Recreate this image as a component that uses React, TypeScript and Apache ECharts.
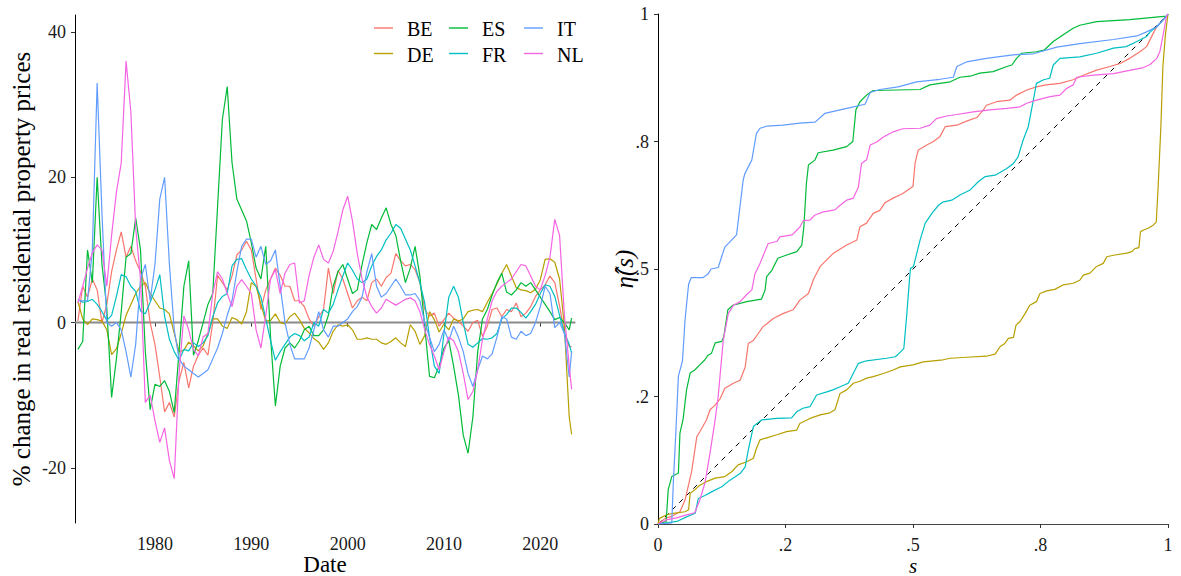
import React, { useEffect, useRef } from "react";
import * as echarts from "echarts";

const FONT = "'Liberation Serif', 'DejaVu Serif', serif";

const countries = ["BE", "DE", "ES", "FR", "IT", "NL"];
const countryColors = ["#F8766D", "#B79F00", "#00BA38", "#00BFC4", "#619CFF", "#F564E3"];

// half-yearly dates 1972.0 ... 2023.0, plus last observation
const dates: number[] = [];
for (let y = 1972; y <= 2023; y += 0.5) dates.push(y);
dates.push(2023.25);

const chgBE = [
  0.2, 5, 3.5, 6, 4.5, 0, 2.5, 7, 10, 12.5, 9, 10.5, 8.5, 7, 5, 0,
  -3, -7.5, -12.3, -11, -13, -8, -5.5, -9, -6, -4.5, -3.5, -4.5, 0, 6.5, 5.5, 4.5, 6.4, 9.3, 10, 11.2,
  10, 6, 1.8, 4.5, 6, 7.5, 6.5, 5, 5, 3, 3, 2.2, 0.5, -0.5, 0.8, 1.8, 7.5, 4, 7.2, 6,
  4, 2, 3, 3.5, 3, 5.5, 6, 5, 6.2, 6.8, 9.5, 8.5, 7.8, 8, 7.3, 5.5, 1.8, 0.9, 1.3, -0.5,
  0.4, 1.3, 0.6, 0.2, -0.5, -1.2, 0, 0.3, -1.9, -0.5, 1.8, 2, 0.8, 1.8, 1.5, 2.7, 0.8, 1.3, 2.2, 3.6,
  4.5, 5.2, 6.4, 5.5, 2.3, -1.5, -3.3, -3.3,
];
const chgDE = [
  2.9, 0.5, -0.3, 0.5, 0.4, 0.2, -1, -4.4, -3.6, -1.5, 1, 2.5, 4, 5, 5.5, 4,
  3, 2, 1.8, 1.2, -1.5, -4, -3.8, -2.7, -3.2, -3.9, -3.2, -1.5, 0.5, 0.5, -0.5, -0.8, 0.7, 0.4, -0.2, 1.5,
  5.5, 5, 2.5, 0.2, 0.3, 1.2, 0, -0.2, 0.8, 1.3, 0.4, -0.8, -1.4, -2.2, -2.7, -3.7, -2.8, -1.2, -0.3, -0.5,
  -0.3, -1, -2.3, -2.3, -2.1, -2.3, -2.3, -2.8, -3, -2.6, -2.1, -2.8, -3.3, -0.3, -1.2, -3, -1.8, 1.5, 0.4, -1.3,
  -0.2, -1, 0.5, 0.2, 0.5, 1.5, 1.7, 1.8, 1.5, 2.8, 4, 5.3, 6.8, 8, 6.4, 4.8, 4.5, 4.4, 4.1, 4.6,
  5.9, 8.7, 8.8, 8.3, 6, -0.5, -13, -15.4,
];
const chgES = [
  -3.7, -2.6, 10, 5.5, 20, 8, 2, -10.3, -5, 1.5, 9, 9.5, 14.4, 10, -4, -12,
  -8.5, -8.8, -8, -9.5, -12.4, -4, 5, 8.5, -4.5, -2.5, 0, 2.5, 4, 16, 28, 32.5, 22, 17, 15.5, 14,
  11, 7.5, 6, 10.5, -2, -11.5, -6, -3.5, -2.8, -3.5, -2.5, -1, -0.5, -1.8, -1.8, -1, 1, 5, 7, 8,
  6, 4, 4.5, 8, 11, 13.5, 12.8, 14.4, 15.8, 13.5, 12, 8.5, 5.5, 7.5, 10.5, 6.4, -0.5, -7.4, -7.6, -6,
  -3.5, -2.5, -6, -10, -15.5, -18, -13, -4, 0.5, 1.8, 3.8, 5.5, 6.8, 4.2, 3.8, 4.5, 5.5, 5, 5.5, 4.5,
  3.5, 2.5, 1.5, 0.4, 0.7, 0, -1, 0.6,
];
const chgFR = [
  3.2, 2.8, 2.9, 3.2, 2.5, 1.5, 0.3, 1, 3.6, 6.6, 6.3, 5, 4.3, 1.6, 1.2, 2.8,
  4.5, 6.6, 0.9, -2.3, -4, -5.2, -3.7, -3.9, -2.8, -3.3, -2.8, -1.8, 0.8, 2.7, 3.6, 4, 7.8, 8.7, 8.8, 7.3,
  6, 5, 3.5, 0.5, -2.5, -5.2, -4, -3, -2, -1.5, -1.8, -2.5, -2, 0, -0.5, 1.8, 1.3, 2.5, 4.5, 6.4,
  8.2, 7.2, 6, 5.5, 6, 7.8, 9.1, 10, 11.4, 12.3, 13.5, 13, 11.5, 10, 7.8, 5.5, 2.7, -2, -6, -7,
  -1.5, 3.5, 5, 3.5, 0, -3, -3.4, -2.8, -2.2, -2.3, -2.1, -1.5, 0.5, 1.1, 2, 2, 1.4, 0.6, 1.5, 2.5,
  4, 5.2, 5, 3.6, 1, -1.4, -3, -4.2,
];
const chgIT = [
  3, 3, 3, 10, 33, 15, 0, -0.5, 0, -1, -4, -7.5, -3, 6, 8, 3,
  8, 17, 20, 8, -1, -5, -6, -6.5, -7, -7.5, -7, -6.5, -5, -3.5, -1.5, 1, 3, 7, 10.5, 11.5,
  11.5, 9, 10.5, 8, 8.5, 10, 5, 0, -3, -5, -5, -5, -3.5, -1, 1.5, -1, -2, -0.5, -0.5, 0,
  0.5, 1.5, 2.2, 3.5, 7, 9.5, 5, 3.5, 4, 5, 6, 5, 3.8, 3.8, 4, 3, 0, -2, -4, -3,
  -1, -2.5, -0.5, -2, -4, -7, -8.8, -6.5, -4.6, -5, -4.3, -2, 0.8, 0.5, -2, -2.3, -1.2, -1.8, -1.5, 0,
  2.2, 5, 4, -0.7, 0, -1.5, -7.5, -4,
];
const chgNL = [
  2.7, 5, 7.5, 9.6, 10.7, 10, 5, 12, 18, 22, 36, 29, 13, 6, -11, -10,
  -13.5, -16.5, -14.5, -19, -21.5, -7, 0.9, -1, -3.7, -4.6, -2, -1.5, 4, 7, 6, 4, 2.2, 5, 5.9, 5,
  4, -1, -3.5, 1, 6, 7.3, 4, 6.8, 8, 8.2, 2.7, 3, 6.5, 9, 10.7, 8.7, 8.2, 9.8, 12.5, 15.5,
  17.4, 14, 9.5, 6, 3.5, 2.2, 1.3, 2, 3.2, 2.8, 2.4, 2.8, 3.2, 3.4, 3, 1.5, -1, -3, -4.6, -6.5,
  -4, -2, -2.5, -4, -7, -10.6, -9.5, -6.5, -2.3, 0.5, 3, 4.3, 5, 5.5, 6, 7, 8, 7.8, 6.4, 5,
  4.5, 6.5, 9, 14.2, 12, 1, -6, -9.2,
];
const changes = [chgBE, chgDE, chgES, chgFR, chgIT, chgNL];

// right panel: [s, eta_hat(s)]
const etaBE = [[0,0],[0.014,0.011],[0.027,0.015],[0.043,0.024],[0.053,0.047],[0.059,0.073],[0.066,0.103],[0.076,0.171],[0.082,0.181],[0.095,0.204],[0.102,0.224],[0.112,0.233],[0.122,0.246],[0.131,0.266],[0.148,0.276],[0.161,0.282],[0.171,0.308],[0.177,0.354],[0.187,0.36],[0.197,0.374],[0.206,0.387],[0.213,0.392],[0.226,0.403],[0.246,0.413],[0.265,0.42],[0.278,0.439],[0.295,0.452],[0.305,0.48],[0.318,0.505],[0.344,0.531],[0.37,0.547],[0.39,0.557],[0.396,0.583],[0.409,0.59],[0.422,0.609],[0.435,0.615],[0.445,0.63],[0.461,0.639],[0.48,0.648],[0.494,0.658],[0.5,0.662],[0.504,0.707],[0.51,0.733],[0.527,0.743],[0.54,0.75],[0.553,0.76],[0.563,0.779],[0.586,0.782],[0.605,0.79],[0.625,0.797],[0.638,0.812],[0.644,0.821],[0.664,0.828],[0.69,0.831],[0.703,0.841],[0.723,0.851],[0.742,0.857],[0.761,0.861],[0.788,0.864],[0.814,0.871],[0.834,0.88],[0.86,0.89],[0.886,0.897],[0.906,0.903],[0.925,0.913],[0.945,0.926],[0.958,0.936],[0.971,0.962],[0.978,0.975],[0.997,0.996],[1,1]];
const etaDE = [[0,0],[0.003,0.011],[0.017,0.018],[0.03,0.021],[0.053,0.024],[0.06,0.028],[0.063,0.06],[0.072,0.067],[0.082,0.076],[0.095,0.083],[0.112,0.09],[0.131,0.093],[0.145,0.103],[0.157,0.116],[0.174,0.122],[0.187,0.129],[0.193,0.148],[0.2,0.165],[0.213,0.169],[0.233,0.175],[0.252,0.181],[0.272,0.184],[0.278,0.197],[0.298,0.207],[0.318,0.214],[0.337,0.218],[0.347,0.224],[0.357,0.256],[0.37,0.263],[0.383,0.276],[0.396,0.28],[0.409,0.286],[0.422,0.289],[0.442,0.295],[0.461,0.302],[0.475,0.308],[0.5,0.312],[0.52,0.318],[0.559,0.322],[0.573,0.325],[0.605,0.327],[0.644,0.329],[0.661,0.333],[0.671,0.348],[0.68,0.354],[0.687,0.364],[0.697,0.366],[0.702,0.39],[0.71,0.397],[0.72,0.413],[0.729,0.429],[0.742,0.436],[0.749,0.452],[0.762,0.457],[0.778,0.46],[0.795,0.469],[0.814,0.472],[0.827,0.478],[0.834,0.488],[0.847,0.492],[0.86,0.505],[0.873,0.511],[0.88,0.524],[0.893,0.527],[0.919,0.531],[0.929,0.534],[0.935,0.54],[0.943,0.542],[0.946,0.573],[0.951,0.576],[0.961,0.58],[0.971,0.586],[0.977,0.592],[0.981,0.668],[0.986,0.779],[0.99,0.897],[0.995,0.96],[1,1]];
const etaES = [[0,0],[0.016,0.005],[0.02,0.067],[0.027,0.093],[0.04,0.1],[0.043,0.178],[0.049,0.204],[0.056,0.263],[0.063,0.296],[0.072,0.302],[0.082,0.312],[0.092,0.322],[0.098,0.331],[0.105,0.335],[0.112,0.355],[0.125,0.358],[0.129,0.367],[0.137,0.42],[0.147,0.429],[0.174,0.436],[0.203,0.441],[0.21,0.459],[0.213,0.485],[0.223,0.497],[0.235,0.521],[0.251,0.527],[0.272,0.534],[0.282,0.547],[0.286,0.583],[0.291,0.668],[0.295,0.704],[0.308,0.714],[0.314,0.728],[0.343,0.733],[0.37,0.74],[0.382,0.75],[0.388,0.812],[0.396,0.828],[0.409,0.841],[0.422,0.85],[0.514,0.852],[0.533,0.861],[0.573,0.867],[0.592,0.876],[0.612,0.878],[0.631,0.884],[0.657,0.887],[0.684,0.897],[0.694,0.9],[0.703,0.913],[0.713,0.923],[0.742,0.926],[0.757,0.929],[0.775,0.946],[0.794,0.959],[0.814,0.972],[0.827,0.978],[0.86,0.985],[0.925,0.989],[0.997,0.996],[1,1]];
const etaFR = [[0,0],[0.037,0.005],[0.056,0.014],[0.073,0.021],[0.079,0.05],[0.092,0.056],[0.105,0.063],[0.125,0.073],[0.141,0.086],[0.161,0.099],[0.171,0.112],[0.177,0.145],[0.187,0.191],[0.203,0.204],[0.233,0.207],[0.262,0.208],[0.272,0.22],[0.284,0.227],[0.298,0.23],[0.311,0.253],[0.331,0.259],[0.343,0.263],[0.357,0.269],[0.373,0.276],[0.393,0.315],[0.409,0.32],[0.448,0.325],[0.465,0.328],[0.471,0.333],[0.482,0.344],[0.488,0.413],[0.493,0.478],[0.495,0.501],[0.501,0.505],[0.514,0.557],[0.524,0.59],[0.537,0.609],[0.55,0.625],[0.558,0.631],[0.576,0.635],[0.592,0.645],[0.612,0.655],[0.628,0.671],[0.641,0.681],[0.661,0.684],[0.684,0.697],[0.697,0.707],[0.706,0.72],[0.716,0.753],[0.726,0.779],[0.736,0.831],[0.742,0.864],[0.756,0.871],[0.768,0.874],[0.775,0.9],[0.788,0.913],[0.827,0.916],[0.86,0.923],[0.893,0.933],[0.918,0.936],[0.939,0.946],[0.958,0.956],[0.965,0.965],[0.978,0.975],[0.997,0.996],[1,1]];
const etaIT = [[0,0],[0.027,0.002],[0.03,0.08],[0.035,0.18],[0.04,0.29],[0.048,0.32],[0.053,0.4],[0.06,0.47],[0.065,0.483],[0.088,0.483],[0.098,0.49],[0.104,0.5],[0.118,0.503],[0.131,0.543],[0.154,0.567],[0.167,0.674],[0.17,0.686],[0.184,0.714],[0.193,0.766],[0.2,0.776],[0.213,0.78],[0.245,0.782],[0.278,0.786],[0.308,0.788],[0.327,0.805],[0.37,0.815],[0.406,0.823],[0.416,0.846],[0.435,0.852],[0.471,0.857],[0.507,0.867],[0.553,0.872],[0.579,0.876],[0.586,0.897],[0.605,0.906],[0.644,0.913],[0.696,0.92],[0.736,0.922],[0.782,0.935],[0.827,0.942],[0.893,0.95],[0.939,0.957],[0.958,0.965],[0.978,0.975],[0.997,0.996],[1,1]];
const etaNL = [[0,0],[0.016,0.008],[0.036,0.012],[0.056,0.018],[0.072,0.022],[0.082,0.047],[0.092,0.08],[0.102,0.139],[0.112,0.204],[0.118,0.25],[0.128,0.361],[0.138,0.413],[0.148,0.429],[0.161,0.436],[0.174,0.45],[0.184,0.459],[0.19,0.49],[0.2,0.511],[0.216,0.55],[0.233,0.554],[0.239,0.563],[0.263,0.567],[0.272,0.576],[0.278,0.582],[0.285,0.595],[0.298,0.596],[0.308,0.606],[0.324,0.612],[0.347,0.616],[0.357,0.625],[0.37,0.635],[0.383,0.639],[0.393,0.661],[0.399,0.707],[0.409,0.714],[0.416,0.743],[0.429,0.749],[0.442,0.759],[0.461,0.769],[0.48,0.775],[0.514,0.776],[0.533,0.782],[0.546,0.795],[0.566,0.8],[0.586,0.803],[0.618,0.808],[0.651,0.812],[0.684,0.815],[0.71,0.818],[0.723,0.825],[0.742,0.831],[0.769,0.838],[0.788,0.841],[0.801,0.854],[0.814,0.861],[0.821,0.876],[0.854,0.88],[0.893,0.883],[0.932,0.891],[0.952,0.895],[0.965,0.901],[0.978,0.913],[0.984,0.926],[0.991,0.962],[0.997,0.996],[1,1]];
const etas = [etaBE, etaDE, etaES, etaFR, etaIT, etaNL];
const diagonal = [[0, 0], [1, 1]];

const leftXTicks = [1980, 1990, 2000, 2010, 2020];
const leftYTicks = [-20, 0, 20, 40];
const rightTicks = [0, 0.25, 0.5, 0.75, 1];
const rightTickLabels = ["0", ".2", ".5", ".8", "1"];

export default function App() {
  const ref = useRef<HTMLDivElement>(null);
  useEffect(() => {
    if (!ref.current) return;
    const chart = echarts.init(ref.current, null, { renderer: "svg" });
    const labelStyle = { fontFamily: FONT, fontSize: 18, color: "#1a1a1a" };
    const nameStyle = { fontFamily: FONT, fontSize: 25, color: "#000" };
    const xNameStyle = { fontFamily: FONT, fontSize: 23, color: "#000", lineHeight: 23 };
    const rightFmt = (v: number) => {
      const i = rightTicks.findIndex((t) => Math.abs(t - v) < 1e-6);
      return i >= 0 ? rightTickLabels[i] : "";
    };
    const plainFmt = (v: number) => String(v);

    const series: any[] = [];
    series.push({
      type: "line", xAxisIndex: 0, yAxisIndex: 0, silent: true, showSymbol: false,
      data: [[1971.7, 0], [2023.6, 0]],
      lineStyle: { color: "#8a8a8a", width: 2 }, z: 1,
    });
    countries.forEach((c, k) => {
      series.push({
        name: c, type: "line", xAxisIndex: 0, yAxisIndex: 0, showSymbol: false,
        data: dates.map((d, i) => [d, changes[k][i]]),
        lineStyle: { color: countryColors[k], width: 1.2 }, itemStyle: { color: countryColors[k] }, z: 2 + k,
      });
    });
    series.push({
      type: "line", xAxisIndex: 1, yAxisIndex: 1, silent: true, showSymbol: false,
      data: diagonal, lineStyle: { color: "#000", width: 1, type: [5, 5] }, z: 1,
    });
    countries.forEach((c, k) => {
      series.push({
        name: c + "_eta", type: "line", xAxisIndex: 1, yAxisIndex: 1, showSymbol: false,
        data: etas[k],
        lineStyle: { color: countryColors[k], width: 1.2 }, itemStyle: { color: countryColors[k] }, z: 2 + k,
      });
    });

    const graphic: any[] = [];
    countries.forEach((c, k) => {
      const col = Math.floor(k / 2);
      const row = k % 2;
      const x0 = 374 + 75 * col;
      const y0 = 28 + 25.5 * row;
      graphic.push({ type: "line", shape: { x1: x0, y1: y0, x2: x0 + 19, y2: y0 }, style: { stroke: countryColors[k], lineWidth: 1.4 } });
      graphic.push({ type: "text", x: x0 + 33, y: y0 + 1, style: { text: c, fontFamily: FONT, fontSize: 20, fill: "#000", verticalAlign: "middle", align: "left" } });
    });

    const axisCommon = (lineColor: string) => ({
      axisLine: { show: true, lineStyle: { color: lineColor, width: 1 } },
      axisTick: { show: true, length: 4, inside: false, lineStyle: { color: "#333" } },
      splitLine: { show: false },
      nameMoveOverlap: false,
    });

    chart.setOption({
      animation: false,
      backgroundColor: "#fff",
      grid: [
        { left: 75, top: 15, width: 500, height: 508, containLabel: false, outerBoundsMode: "none" },
        { left: 658, top: 14, width: 510, height: 510, containLabel: false, outerBoundsMode: "none" },
      ],
      xAxis: [
        {
          type: "value", gridIndex: 0, min: 1971.7, max: 2023.6, ...axisCommon("#444"),
          axisTick: { show: true, length: 4, lineStyle: { color: "#333" }, customValues: leftXTicks },
          axisLabel: { ...labelStyle, margin: 12, customValues: leftXTicks, formatter: plainFmt },
          name: "Date", nameLocation: "middle", nameGap: 30, nameTextStyle: xNameStyle,
        },
        {
          type: "value", gridIndex: 1, min: 0, max: 1, interval: 0.25, ...axisCommon("#444"),
          axisLabel: { ...labelStyle, margin: 12, formatter: rightFmt, showMinLabel: true, showMaxLabel: true },
          name: "s", nameLocation: "middle", nameGap: 31, nameTextStyle: { fontFamily: FONT, fontSize: 21, lineHeight: 21, color: "#000", fontStyle: "italic" },
        },
      ],
      yAxis: [
        {
          type: "value", gridIndex: 0, min: -27.6, max: 42.35, ...axisCommon("#000"),
          axisTick: { show: true, length: 4, lineStyle: { color: "#333" }, customValues: leftYTicks },
          axisLabel: { ...labelStyle, margin: 9, customValues: leftYTicks, formatter: plainFmt },
          name: "% change in real residential property prices", nameLocation: "middle", nameGap: 41, nameTextStyle: nameStyle,
        },
        {
          type: "value", gridIndex: 1, min: 0, max: 1, interval: 0.25, ...axisCommon("#000"),
          axisLabel: { ...labelStyle, margin: 9, formatter: rightFmt, showMinLabel: true, showMaxLabel: true },
          name: "\u03B7\u0302(s)", nameLocation: "middle", nameGap: 21, nameTextStyle: { ...nameStyle, fontStyle: "italic" },
        },
      ],
      series,
      graphic,
    });
    return () => chart.dispose();
  }, []);
  return <div ref={ref} style={{ position: "fixed", left: 0, top: 0, width: 1181, height: 576, background: "#fff" }} />;
}
